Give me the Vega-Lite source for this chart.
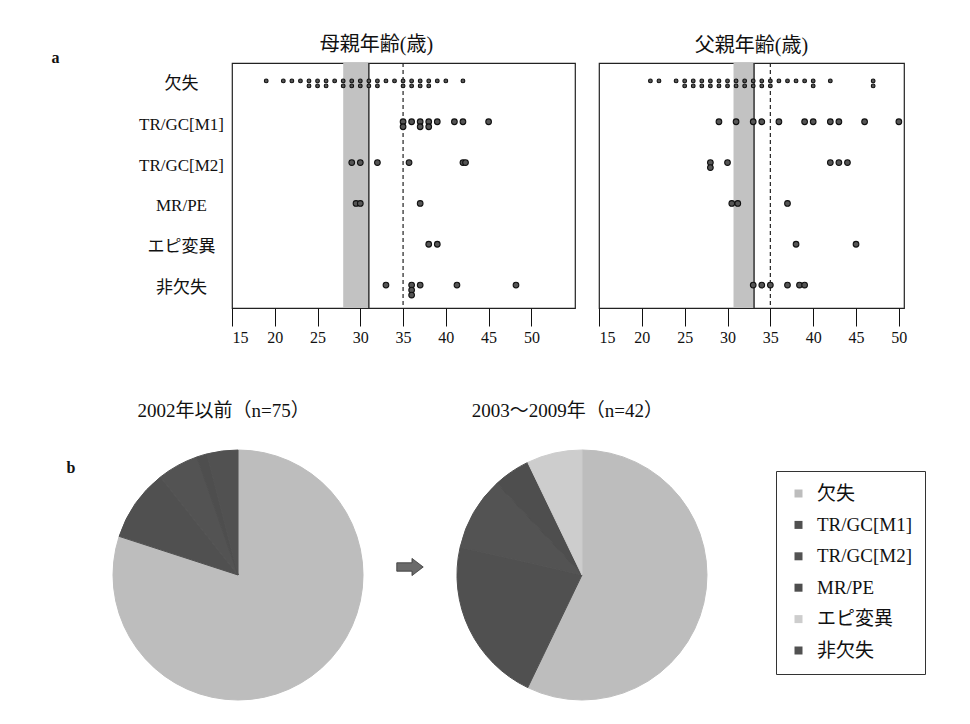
{
  "$schema": "https://vega.github.io/schema/vega-lite/v6.json",
  "background": "white",
  "padding": {"left": 50, "top": 34, "right": 5, "bottom": 5},
  "config": {
    "font": "'Liberation Serif', 'Noto Sans CJK JP'",
    "view": {"stroke": "#222", "strokeWidth": 1.2},
    "axis": {"labelFont": "'Liberation Serif', 'Noto Sans CJK JP'", "titleFont": "'Liberation Serif', 'Noto Sans CJK JP'", "labelColor": "#111", "titleColor": "#111", "grid": false},
    "legend": {"labelFont": "'Liberation Serif', 'Noto Sans CJK JP'"},
    "title": {"font": "'Liberation Serif', 'Noto Sans CJK JP'", "color": "#111"}
  },
  "datasets": {
    "bands": [{"p": "母", "s": 28, "e": 31}, {"p": "父", "s": 30.7, "e": 33.1}],
    "ref": [{"v": 35}],
    "dots": [
      {"p": "母", "r": "欠失", "a": 19}, {"p": "母", "r": "欠失", "a": 21}, {"p": "母", "r": "欠失", "a": 22}, {"p": "母", "r": "欠失", "a": 23},
      {"p": "母", "r": "欠失", "a": 24}, {"p": "母", "r": "欠失", "a": 24}, {"p": "母", "r": "欠失", "a": 25}, {"p": "母", "r": "欠失", "a": 25},
      {"p": "母", "r": "欠失", "a": 26}, {"p": "母", "r": "欠失", "a": 26}, {"p": "母", "r": "欠失", "a": 27}, {"p": "母", "r": "欠失", "a": 28},
      {"p": "母", "r": "欠失", "a": 28}, {"p": "母", "r": "欠失", "a": 29}, {"p": "母", "r": "欠失", "a": 29}, {"p": "母", "r": "欠失", "a": 30},
      {"p": "母", "r": "欠失", "a": 30}, {"p": "母", "r": "欠失", "a": 31}, {"p": "母", "r": "欠失", "a": 31}, {"p": "母", "r": "欠失", "a": 32},
      {"p": "母", "r": "欠失", "a": 32}, {"p": "母", "r": "欠失", "a": 33}, {"p": "母", "r": "欠失", "a": 34}, {"p": "母", "r": "欠失", "a": 35},
      {"p": "母", "r": "欠失", "a": 35}, {"p": "母", "r": "欠失", "a": 36}, {"p": "母", "r": "欠失", "a": 36}, {"p": "母", "r": "欠失", "a": 37},
      {"p": "母", "r": "欠失", "a": 37}, {"p": "母", "r": "欠失", "a": 38}, {"p": "母", "r": "欠失", "a": 38}, {"p": "母", "r": "欠失", "a": 39},
      {"p": "母", "r": "欠失", "a": 40}, {"p": "母", "r": "欠失", "a": 42},
      {"p": "母", "r": "TR/GC[M1]", "a": 35}, {"p": "母", "r": "TR/GC[M1]", "a": 35}, {"p": "母", "r": "TR/GC[M1]", "a": 36}, {"p": "母", "r": "TR/GC[M1]", "a": 37},
      {"p": "母", "r": "TR/GC[M1]", "a": 37}, {"p": "母", "r": "TR/GC[M1]", "a": 38}, {"p": "母", "r": "TR/GC[M1]", "a": 38}, {"p": "母", "r": "TR/GC[M1]", "a": 39},
      {"p": "母", "r": "TR/GC[M1]", "a": 41}, {"p": "母", "r": "TR/GC[M1]", "a": 42}, {"p": "母", "r": "TR/GC[M1]", "a": 45},
      {"p": "母", "r": "TR/GC[M2]", "a": 29}, {"p": "母", "r": "TR/GC[M2]", "a": 30}, {"p": "母", "r": "TR/GC[M2]", "a": 32}, {"p": "母", "r": "TR/GC[M2]", "a": 35.7},
      {"p": "母", "r": "TR/GC[M2]", "a": 42}, {"p": "母", "r": "TR/GC[M2]", "a": 42.3},
      {"p": "母", "r": "MR/PE", "a": 29.5}, {"p": "母", "r": "MR/PE", "a": 30}, {"p": "母", "r": "MR/PE", "a": 37},
      {"p": "母", "r": "エピ変異", "a": 38}, {"p": "母", "r": "エピ変異", "a": 39},
      {"p": "母", "r": "非欠失", "a": 33}, {"p": "母", "r": "非欠失", "a": 36}, {"p": "母", "r": "非欠失", "a": 36}, {"p": "母", "r": "非欠失", "a": 36},
      {"p": "母", "r": "非欠失", "a": 37}, {"p": "母", "r": "非欠失", "a": 41.3}, {"p": "母", "r": "非欠失", "a": 48.2},
      {"p": "父", "r": "欠失", "a": 21}, {"p": "父", "r": "欠失", "a": 22}, {"p": "父", "r": "欠失", "a": 24}, {"p": "父", "r": "欠失", "a": 25},
      {"p": "父", "r": "欠失", "a": 25}, {"p": "父", "r": "欠失", "a": 26}, {"p": "父", "r": "欠失", "a": 26}, {"p": "父", "r": "欠失", "a": 27},
      {"p": "父", "r": "欠失", "a": 27}, {"p": "父", "r": "欠失", "a": 28}, {"p": "父", "r": "欠失", "a": 28}, {"p": "父", "r": "欠失", "a": 29},
      {"p": "父", "r": "欠失", "a": 29}, {"p": "父", "r": "欠失", "a": 30}, {"p": "父", "r": "欠失", "a": 30}, {"p": "父", "r": "欠失", "a": 31},
      {"p": "父", "r": "欠失", "a": 31}, {"p": "父", "r": "欠失", "a": 32}, {"p": "父", "r": "欠失", "a": 32}, {"p": "父", "r": "欠失", "a": 33},
      {"p": "父", "r": "欠失", "a": 33}, {"p": "父", "r": "欠失", "a": 34}, {"p": "父", "r": "欠失", "a": 34}, {"p": "父", "r": "欠失", "a": 35},
      {"p": "父", "r": "欠失", "a": 35}, {"p": "父", "r": "欠失", "a": 36}, {"p": "父", "r": "欠失", "a": 37}, {"p": "父", "r": "欠失", "a": 38},
      {"p": "父", "r": "欠失", "a": 39}, {"p": "父", "r": "欠失", "a": 40}, {"p": "父", "r": "欠失", "a": 40}, {"p": "父", "r": "欠失", "a": 42},
      {"p": "父", "r": "欠失", "a": 47}, {"p": "父", "r": "欠失", "a": 47},
      {"p": "父", "r": "TR/GC[M1]", "a": 29}, {"p": "父", "r": "TR/GC[M1]", "a": 31}, {"p": "父", "r": "TR/GC[M1]", "a": 33}, {"p": "父", "r": "TR/GC[M1]", "a": 34},
      {"p": "父", "r": "TR/GC[M1]", "a": 36}, {"p": "父", "r": "TR/GC[M1]", "a": 39}, {"p": "父", "r": "TR/GC[M1]", "a": 40}, {"p": "父", "r": "TR/GC[M1]", "a": 42},
      {"p": "父", "r": "TR/GC[M1]", "a": 43}, {"p": "父", "r": "TR/GC[M1]", "a": 46}, {"p": "父", "r": "TR/GC[M1]", "a": 50},
      {"p": "父", "r": "TR/GC[M2]", "a": 28}, {"p": "父", "r": "TR/GC[M2]", "a": 28}, {"p": "父", "r": "TR/GC[M2]", "a": 30}, {"p": "父", "r": "TR/GC[M2]", "a": 42},
      {"p": "父", "r": "TR/GC[M2]", "a": 43}, {"p": "父", "r": "TR/GC[M2]", "a": 44},
      {"p": "父", "r": "MR/PE", "a": 30.5}, {"p": "父", "r": "MR/PE", "a": 31.2}, {"p": "父", "r": "MR/PE", "a": 37},
      {"p": "父", "r": "エピ変異", "a": 38}, {"p": "父", "r": "エピ変異", "a": 45},
      {"p": "父", "r": "非欠失", "a": 33}, {"p": "父", "r": "非欠失", "a": 34}, {"p": "父", "r": "非欠失", "a": 35}, {"p": "父", "r": "非欠失", "a": 37},
      {"p": "父", "r": "非欠失", "a": 38.4}, {"p": "父", "r": "非欠失", "a": 39}
    ],
    "pies": [
      {"g": "2002年以前（n=75）", "c": "欠失", "n": 60, "o": 1},
      {"g": "2002年以前（n=75）", "c": "TR/GC[M1]", "n": 7, "o": 2},
      {"g": "2002年以前（n=75）", "c": "TR/GC[M2]", "n": 4, "o": 3},
      {"g": "2002年以前（n=75）", "c": "MR/PE", "n": 1, "o": 4},
      {"g": "2002年以前（n=75）", "c": "非欠失", "n": 3, "o": 6},
      {"g": "2003〜2009年（n=42）", "c": "欠失", "n": 24, "o": 1},
      {"g": "2003〜2009年（n=42）", "c": "TR/GC[M1]", "n": 9, "o": 2},
      {"g": "2003〜2009年（n=42）", "c": "TR/GC[M2]", "n": 4, "o": 3},
      {"g": "2003〜2009年（n=42）", "c": "MR/PE", "n": 2, "o": 4},
      {"g": "2003〜2009年（n=42）", "c": "エピ変異", "n": 3, "o": 5}
    ],
    "arrow": [{"g": "→"}]
  },
  "bounds": "flush",
  "spacing": 382,
  "vconcat": [
    {
      "bounds": "flush",
      "spacing": 24,
      "hconcat": [
        {
          "width": 343,
          "height": 245,
          "title": {"text": "母親年齢(歳)", "fontSize": 20, "fontWeight": "normal", "dx": -27, "dy": 35, "offset": 9, "baseline": "bottom", "frame": "group"},
          "layer": [
            {
              "data": {"name": "bands"},
              "transform": [{"filter": "datum.p === '母'"}],
              "mark": {"type": "rect", "color": "#c2c2c2"},
              "encoding": {
                "x": {"field": "s", "type": "quantitative", "title": null, "scale": {"domain": [15, 55.1], "nice": false, "zero": false},
                  "axis": {"values": [15, 20, 25, 30, 35, 40, 45, 50], "tickSize": 18, "tickColor": "#111", "labelFontSize": 16, "labelPadding": 3, "domain": false}},
                "x2": {"field": "e"}
              }
            },
            {
              "data": {"name": "bands"},
              "transform": [{"filter": "datum.p === '母'"}],
              "mark": {"type": "rule", "color": "#333", "strokeWidth": 1.5},
              "encoding": {"x": {"field": "e", "type": "quantitative", "title": null}}
            },
            {
              "data": {"name": "ref"},
              "mark": {"type": "rule", "color": "#222", "strokeWidth": 1.2, "strokeDash": [4, 3]},
              "encoding": {"x": {"field": "v", "type": "quantitative", "title": null}}
            },
            {
              "data": {"name": "dots"},
              "transform": [{"filter": "datum.p === '母'"}, {"window": [{"op": "row_number", "as": "k"}], "groupby": ["p", "r", "a"]}],
              "mark": {"type": "point", "filled": true, "color": "#555", "stroke": "#111", "strokeWidth": 1.1, "opacity": 1},
              "encoding": {
                "x": {"field": "a", "type": "quantitative", "title": null},
                "y": {"field": "r", "type": "nominal", "scale": {"type": "point", "domain": ["欠失", "TR/GC[M1]", "TR/GC[M2]", "MR/PE", "エピ変異", "非欠失"], "padding": 0.5},
                  "axis": {"ticks": false, "domain": false, "labelFontSize": 17, "labelAlign": "center", "labelPadding": 51,
                    "title": "a", "titleAngle": 0, "titleX": -181, "titleY": -6, "titleAlign": "left", "titleBaseline": "middle", "titleFontSize": 16, "titleFontWeight": "bold"}},
                "yOffset": {"field": "k", "type": "quantitative", "scale": {"domain": [1, 2], "range": [-2.5, 2.5]}},
                "size": {"condition": {"test": "datum.r === '欠失'", "value": 14}, "value": 32}
              }
            }
          ]
        },
        {
          "width": 305,
          "height": 245,
          "title": {"text": "父親年齢(歳)", "fontSize": 20, "fontWeight": "normal", "dx": 0, "dy": 23, "offset": 9, "baseline": "bottom", "frame": "group"},
          "layer": [
            {
              "data": {"name": "bands"},
              "transform": [{"filter": "datum.p === '父'"}],
              "mark": {"type": "rect", "color": "#c2c2c2"},
              "encoding": {
                "x": {"field": "s", "type": "quantitative", "title": null, "scale": {"domain": [15, 50.6], "nice": false, "zero": false},
                  "axis": {"values": [15, 20, 25, 30, 35, 40, 45, 50], "tickSize": 18, "tickColor": "#111", "labelFontSize": 16, "labelPadding": 3, "domain": false}},
                "x2": {"field": "e"}
              }
            },
            {
              "data": {"name": "bands"},
              "transform": [{"filter": "datum.p === '父'"}],
              "mark": {"type": "rule", "color": "#333", "strokeWidth": 1.5},
              "encoding": {"x": {"field": "e", "type": "quantitative", "title": null}}
            },
            {
              "data": {"name": "ref"},
              "mark": {"type": "rule", "color": "#222", "strokeWidth": 1.2, "strokeDash": [4, 3]},
              "encoding": {"x": {"field": "v", "type": "quantitative", "title": null}}
            },
            {
              "data": {"name": "dots"},
              "transform": [{"filter": "datum.p === '父'"}, {"window": [{"op": "row_number", "as": "k"}], "groupby": ["p", "r", "a"]}],
              "mark": {"type": "point", "filled": true, "color": "#555", "stroke": "#111", "strokeWidth": 1.1, "opacity": 1},
              "encoding": {
                "x": {"field": "a", "type": "quantitative", "title": null},
                "y": {"field": "r", "type": "nominal", "scale": {"type": "point", "domain": ["欠失", "TR/GC[M1]", "TR/GC[M2]", "MR/PE", "エピ変異", "非欠失"], "padding": 0.5}, "axis": null},
                "yOffset": {"field": "k", "type": "quantitative", "scale": {"domain": [1, 2], "range": [-2.5, 2.5]}},
                "size": {"condition": {"test": "datum.r === '欠失'", "value": 14}, "value": 32}
              }
            }
          ]
        }
      ]
    },
    {
      "width": 356,
      "height": 260,
      "view": {"stroke": null},
      "resolve": {"scale": {"theta": "independent"}},
      "layer": [
        {
          "data": {"name": "pies"},
          "transform": [{"filter": "datum.g === '2002年以前（n=75）'"}],
          "mark": {"type": "arc", "radius": 125, "strokeWidth": 1},
          "encoding": {
            "x": {"field": "g", "type": "nominal", "scale": {"type": "point", "domain": ["2002年以前（n=75）", "→", "2003〜2009年（n=42）"], "padding": 0.035},
              "axis": {"orient": "top", "domain": false, "ticks": false, "tickSize": 0, "labelPadding": 25, "labelFontSize": 19, "labelOffset": -15, "labelAngle": 0, "labelLimit": 400,
                "labelExpr": "datum.value === '→' ? '' : datum.value",
                "title": "b", "titleAngle": 0, "titleX": -166, "titleY": 22, "titleAlign": "left", "titleBaseline": "middle", "titleFontSize": 16, "titleFontWeight": "bold"}},
            "theta": {"field": "n", "type": "quantitative", "stack": true},
            "order": {"field": "o", "type": "quantitative"},
            "color": {"field": "c", "type": "nominal",
              "scale": {"domain": ["欠失", "TR/GC[M1]", "TR/GC[M2]", "MR/PE", "エピ変異", "非欠失"], "range": ["#bdbdbd", "#505050", "#535353", "#4e4e4e", "#cdcdcd", "#515151"]},
              "legend": {"orient": "none", "legendX": 544, "legendY": 408, "title": null, "symbolType": "square", "symbolSize": 64, "symbolStrokeWidth": 0,
                "labelFontSize": 19, "labelOffset": 9, "rowPadding": 11.4, "padding": 13, "strokeColor": "#333", "labelColor": "#111"}},
            "stroke": {"field": "c", "type": "nominal", "legend": null,
              "scale": {"domain": ["欠失", "TR/GC[M1]", "TR/GC[M2]", "MR/PE", "エピ変異", "非欠失"], "range": ["#bdbdbd", "#505050", "#535353", "#4e4e4e", "#cdcdcd", "#515151"]}}
          }
        },
        {
          "data": {"name": "pies"},
          "transform": [{"filter": "datum.g === '2003〜2009年（n=42）'"}],
          "mark": {"type": "arc", "radius": 125, "strokeWidth": 1},
          "encoding": {
            "x": {"field": "g", "type": "nominal"},
            "theta": {"field": "n", "type": "quantitative", "stack": true},
            "order": {"field": "o", "type": "quantitative"},
            "color": {"field": "c", "type": "nominal"},
            "stroke": {"field": "c", "type": "nominal", "legend": null}
          }
        },
        {
          "data": {"name": "arrow"},
          "mark": {"type": "point", "shape": "M-1,-0.32 L0.15,-0.32 L0.15,-0.65 L1,0 L0.15,0.65 L0.15,0.32 L-1,0.32 Z", "size": 700, "filled": true, "color": "#6a6a6a", "stroke": "#333", "strokeWidth": 0.8, "opacity": 1, "yOffset": -8},
          "encoding": {"x": {"field": "g", "type": "nominal"}}
        }
      ]
    }
  ]
}
